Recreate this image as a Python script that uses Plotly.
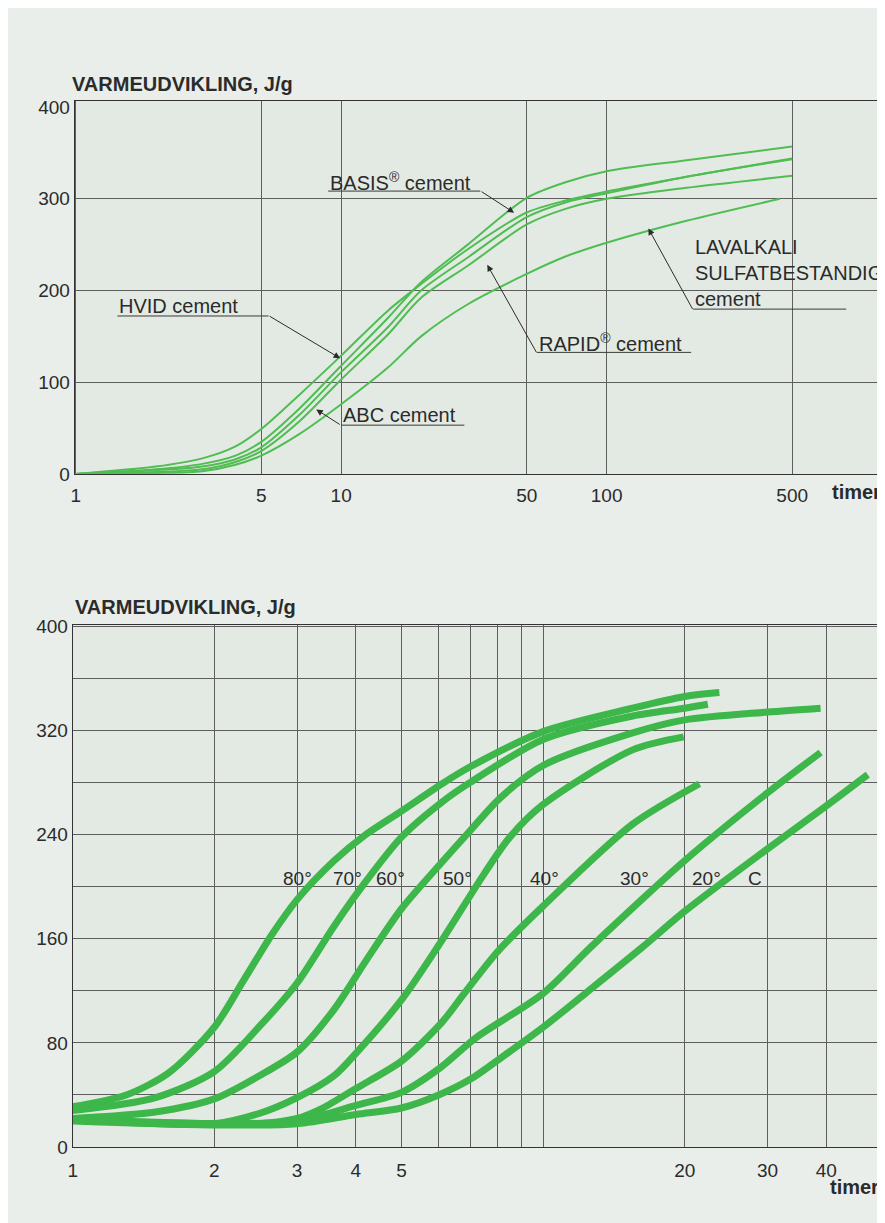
import plotly.graph_objects as go

# ---------------- data: upper chart (cement types) ----------------
top_hours = [1, 2, 3, 4, 5, 7, 10, 15, 20, 30, 50, 70, 100, 200, 500]
hvid_heat = [0, 8, 17, 30, 49, 87, 129, 178, 207, 245, 285, 298, 308, 324, 344]
basis_heat = [0, 5, 11, 20, 35, 72, 118, 170, 209, 250, 301, 318, 330, 342, 357]
rapid_heat = [0, 4, 8, 16, 29, 65, 111, 160, 200, 236, 280, 296, 306, 324, 343]
abc_heat = [0, 2, 5, 13, 25, 58, 103, 152, 192, 227, 272, 289, 300, 312, 325]
lav_hours = [1, 2, 3, 4, 5, 7, 10, 15, 20, 30, 50, 70, 100, 200, 450]
lav_heat = [0, 1, 3, 10, 20, 44, 76, 116, 150, 185, 218, 237, 252, 276, 300]

top_xticks = [1, 5, 10, 50, 100, 500]
top_yticks = [0, 100, 200, 300, 400]
top_ygrid = [100, 200, 300]

# ---------------- data: lower chart (temperatures) ----------------
t80 = [1, 1.3, 1.6, 2, 2.3, 2.65, 3, 3.6, 4.2, 5, 6.1, 7, 10, 15.5, 20, 23.7]
v80 = [31, 40, 57, 92, 127, 163, 190, 220, 240, 258, 279, 292, 319, 337, 346, 349]
t70 = [1, 1.5, 2, 2.5, 3, 3.6, 4.2, 5, 6.1, 7, 10, 15.5, 20, 22.4]
v70 = [28, 38, 58, 93, 126, 170, 204, 238, 265, 280, 313, 331, 337, 340]
t60 = [1, 1.5, 2, 2.5, 3, 3.6, 4.2, 5, 6, 7, 8.1, 10, 15.5, 20, 30, 38.9]
v60 = [22, 27, 37, 55, 73, 106, 143, 183, 216, 243, 268, 293, 318, 328, 334, 337]
t50 = [1, 2, 2.5, 3, 3.6, 4, 5, 6, 7.5, 8.5, 10, 15.5, 19.9]
v50 = [21, 18, 26, 38, 55, 72, 113, 155, 210, 238, 263, 305, 315]
t40 = [1, 2, 2.5, 3, 3.4, 4, 5, 6.1, 6.8, 8, 10, 15.5, 21.5]
v40 = [21, 18, 18, 22, 30, 45, 66, 96, 118, 150, 185, 248, 279]
t30 = [1, 2, 3, 4, 5, 6, 7.2, 10, 12.5, 16.2, 20, 30, 38.9]
v30 = [21, 18, 20, 32, 42, 60, 84, 118, 152, 190, 220, 272, 303]
t20 = [1, 2, 3, 4, 5, 6, 7, 8.1, 10, 12.3, 16.2, 20, 30, 40, 49]
v20 = [20, 17, 18, 25, 30, 40, 52, 68, 92, 118, 153, 181, 229, 262, 286]

bot_xticks = [1, 2, 3, 4, 5, 6, 7, 8, 9, 10, 20, 30, 40]
bot_xtext = ["1", "2", "3", "4", "5", "", "", "", "", "", "20", "30", "40"]
bot_yticks = [0, 40, 80, 120, 160, 200, 240, 280, 320, 360, 400]
bot_ytext = ["0", "", "80", "", "160", "", "240", "", "320", "", "400"]
temp_labels = ["80°", "70°", "60°", "50°", "40°", "30°", "20°", "C"]

# ---------------- styling ----------------
OFF = 8                     # page body margin of the browser
W, H = 885 - OFF, 1223 - OFF
FONT = "Liberation Sans, Arial, sans-serif"
TXT = "#2b2b2b"
GRID = "#5e5e5e"
GREEN_THIN = "#4fbd52"
GREEN_THICK = "#3db64a"


def px(x):
    return (x - OFF) / W


def py(y):
    return 1 - (y - OFF) / H


fig = go.Figure()

thin = dict(color=GREEN_THIN, width=2, shape="spline", smoothing=0.8)
for xs, ys, nm in [(top_hours, hvid_heat, "HVID"), (top_hours, basis_heat, "BASIS"),
                   (top_hours, rapid_heat, "RAPID"), (top_hours, abc_heat, "ABC"),
                   (lav_hours, lav_heat, "LAVALKALI")]:
    fig.add_trace(go.Scatter(x=xs, y=ys, mode="lines", line=thin, name=nm,
                             xaxis="x", yaxis="y", hoverinfo="skip"))

thick = dict(color=GREEN_THICK, width=7, shape="spline", smoothing=0.8)
for xs, ys, nm in [(t80, v80, "80"), (t70, v70, "70"), (t60, v60, "60"), (t50, v50, "50"),
                   (t40, v40, "40"), (t30, v30, "30"), (t20, v20, "20")]:
    fig.add_trace(go.Scatter(x=xs, y=ys, mode="lines", line=thick, name=nm,
                             xaxis="x2", yaxis="y2", hoverinfo="skip"))

tickfont = dict(family=FONT, size=19, color=TXT)
axis_common = dict(showline=True, linecolor="#333333", linewidth=1, mirror=True,
                   zeroline=False, ticks="", tickfont=tickfont,
                   gridcolor=GRID, gridwidth=1)

fig.update_layout(
    width=W, height=H, autosize=False,
    margin=dict(l=0, r=0, t=0, b=0),
    paper_bgcolor="#e9eeea", plot_bgcolor="#e3eae4",
    showlegend=False,
    xaxis=dict(axis_common, type="log", domain=[px(70), px(880)],
               range=[-0.004, 3.03], anchor="y",
               tickmode="array", tickvals=top_xticks,
               ticktext=[str(v) for v in top_xticks], showgrid=True,
               ticklabelstandoff=4),
    yaxis=dict(axis_common, domain=[py(472.6), py(93)], range=[0, 407], anchor="x",
               tickmode="array", tickvals=top_yticks, showgrid=False,
               minor=dict(tickmode="array", tickvals=top_ygrid, showgrid=True,
                          gridcolor=GRID, gridwidth=1, ticks="")),
    xaxis2=dict(axis_common, type="log", domain=[px(68), px(878)],
                range=[0, 1.712], anchor="y2",
                tickmode="array", tickvals=bot_xticks, ticktext=bot_xtext,
                showgrid=True, ticklabelstandoff=6),
    yaxis2=dict(axis_common, domain=[py(1157), py(626)], range=[0, 401], anchor="x2",
                tickmode="array", tickvals=bot_yticks, ticktext=bot_ytext,
                showgrid=True),
)

annots = []


def text(x, y, s, size=20, bold=False, xanchor="left", align="left"):
    if bold:
        s = "<b>" + s + "</b>"
    annots.append(dict(x=px(x), y=py(y), xref="paper", yref="paper", text=s,
                       showarrow=False, xanchor=xanchor, yanchor="middle", align=align,
                       font=dict(family=FONT, size=size, color=TXT)))


def arrow(tail, tip):
    annots.append(dict(x=px(tip[0]), y=py(tip[1]), xref="paper", yref="paper",
                       ax=tail[0] - tip[0], ay=tail[1] - tip[1], text="",
                       showarrow=True, arrowhead=2, arrowsize=1.3, arrowwidth=1,
                       arrowcolor="#2b2b2b", standoff=0, startstandoff=0))


shapes = []


def uline(x0, x1, y):
    shapes.append(dict(type="line", xref="paper", yref="paper",
                       x0=px(x0), x1=px(x1), y0=py(y), y1=py(y),
                       line=dict(color="#3a3a3a", width=1)))


# titles
text(65, 76, "VARMEUDVIKLING, J/g", size=20, bold=True)
text(830, 491, "timer", size=20, bold=True)
text(68, 608, "VARMEUDVIKLING, J/g", size=20, bold=True)
text(828, 1198, "timer", size=20, bold=True)

# cement labels
text(325, 175, "BASIS<sup>®</sup> cement")
uline(325, 478, 185)
arrow((478, 185), (512, 207))

text(113, 302, "HVID cement")
uline(113, 265, 312)
arrow((265, 312), (337, 355))

text(338, 413, "ABC cement")
uline(338, 462, 423)
arrow((338, 423), (313, 407))

text(535, 339, "RAPID<sup>®</sup> cement")
uline(535, 690, 349)
arrow((535, 349), (485, 260))

text(692, 268, "LAVALKALI<br>SULFATBESTANDIG<br>cement")
uline(692, 846, 305)
arrow((692, 305), (647, 223))

# temperature labels
for lab, cx in zip(temp_labels, [294, 344, 388, 455, 543, 633, 705, 754]):
    text(cx, 884, lab, size=19, xanchor="center", align="center")

fig.update_layout(annotations=annots, shapes=shapes)

fig.write_html("out.html")
